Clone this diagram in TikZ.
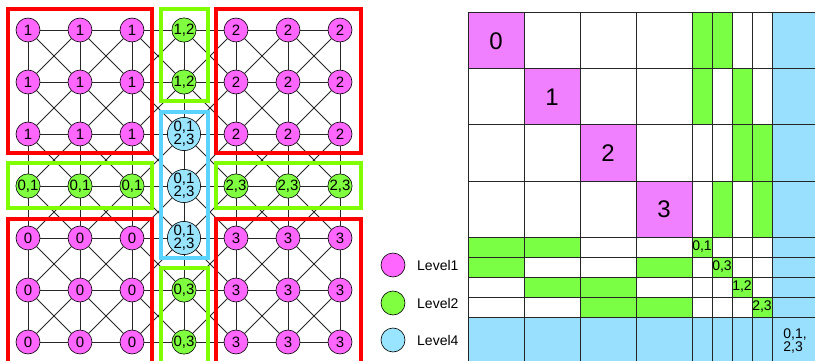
\documentclass[tikz,border=0pt]{standalone}
\usepackage{fontspec}
\setmainfont{Liberation Sans}
\definecolor{pkc}{RGB}{255,102,255}
\definecolor{pkm}{RGB}{240,128,255}
\definecolor{grc}{RGB}{128,255,64}
\definecolor{grm}{RGB}{122,255,69}
\definecolor{cyc}{RGB}{153,228,255}
\definecolor{cym}{RGB}{153,224,255}
\definecolor{boxred}{RGB}{255,0,0}
\definecolor{boxgreen}{RGB}{128,255,0}
\definecolor{boxcyan}{RGB}{90,212,255}
\tikzset{
  gnode/.style={circle, draw=black, line width=0.6pt, minimum size=24pt, inner sep=0pt, font=\fontsize{15}{15}\selectfont},
  pk/.style={gnode, fill=pkc},
  gr/.style={gnode, fill=grc},
  cy/.style={gnode, fill=cyc, align=center, font=\fontsize{15}{12}\selectfont},
  edge/.style={draw=black!85, line width=0.75pt},
  grp/.style={line width=3.5pt},
  mline/.style={draw=black!85, line width=1pt},
  bigl/.style={font=\fontsize{24}{24}\selectfont, inner sep=0pt},
  smalll/.style={font=\fontsize{14}{14}\selectfont, inner sep=0pt},
  legtext/.style={font=\fontsize{14}{14}\selectfont, anchor=west, inner sep=0pt},
}
\newcommand\gn[4]{\node[#3] (n#1-#2) at ({28+52*#1},{30+52*#2}) {#4};}
\begin{document}
\begin{tikzpicture}[x=1pt,y=-1pt]
\useasboundingbox (0,0) rectangle (815,361);
\clip (0,0) rectangle (815,361);
% ---------- left graph: nodes ----------
\gn00{pk}{1}\gn10{pk}{1}\gn20{pk}{1}\gn30{gr}{1,2}\gn40{pk}{2}\gn50{pk}{2}\gn60{pk}{2}
\gn01{pk}{1}\gn11{pk}{1}\gn21{pk}{1}\gn31{gr}{1,2}\gn41{pk}{2}\gn51{pk}{2}\gn61{pk}{2}
\gn02{pk}{1}\gn12{pk}{1}\gn22{pk}{1}\gn32{cy}{0,1\\2,3}\gn42{pk}{2}\gn52{pk}{2}\gn62{pk}{2}
\gn03{gr}{0,1}\gn13{gr}{0,1}\gn23{gr}{0,1}\gn33{cy}{0,1\\2,3}\gn43{gr}{2,3}\gn53{gr}{2,3}\gn63{gr}{2,3}
\gn04{pk}{0}\gn14{pk}{0}\gn24{pk}{0}\gn34{cy}{0,1\\2,3}\gn44{pk}{3}\gn54{pk}{3}\gn64{pk}{3}
\gn05{pk}{0}\gn15{pk}{0}\gn25{pk}{0}\gn35{gr}{0,3}\gn45{pk}{3}\gn55{pk}{3}\gn65{pk}{3}
\gn06{pk}{0}\gn16{pk}{0}\gn26{pk}{0}\gn36{gr}{0,3}\gn46{pk}{3}\gn56{pk}{3}\gn66{pk}{3}
% ---------- edges ----------
\foreach \i in {0,...,6} {
  \foreach \j in {0,...,5} {
    \pgfmathtruncatemacro\k{\j+1}
    \draw[edge] (n\i-\j) -- (n\i-\k);
    \draw[edge] (n\j-\i) -- (n\k-\i);
  }
}
\foreach \i in {0,...,5} {
  \foreach \j in {0,...,5} {
    \pgfmathtruncatemacro\ii{\i+1}
    \pgfmathtruncatemacro\jj{\j+1}
    \draw[edge] (n\i-\j) -- (n\ii-\jj);
    \draw[edge] (n\ii-\j) -- (n\i-\jj);
  }
}
% ---------- group boxes ----------
\draw[grp, boxred] (8,9) rectangle (152,153);
\draw[grp, boxred] (216,9) rectangle (361,153);
\draw[grp, boxred] (8,219) rectangle (152,380);
\draw[grp, boxred] (216,219) rectangle (361,380);
\draw[grp, boxgreen] (161,9) rectangle (208,101);
\draw[grp, boxgreen] (8,163) rectangle (152,208);
\draw[grp, boxgreen] (216,163) rectangle (361,208);
\draw[grp, boxgreen] (161,268) rectangle (208,380);
\draw[grp, boxcyan] (161,112) rectangle (208,258);
% ---------- legend ----------
\node[pk, minimum size=24pt] (l1) at (393,265) {};
\node[gr, minimum size=24pt] (l2) at (393,303) {};
\node[cy, minimum size=24pt] (l4) at (393,340) {};
\node[legtext] (t1) at (417,265) {Level1};
\node[legtext] (t2) at (417,303) {Level2};
\node[legtext] (t4) at (417,340) {Level4};
% ---------- matrix ----------
% magenta diagonal
\fill[pkm] (468,13) rectangle (524,69);
\fill[pkm] (524,69) rectangle (580,125);
\fill[pkm] (580,125) rectangle (636,181);
\fill[pkm] (636,181) rectangle (692,237);
% green columns
\fill[grm] (692,13) rectangle (732,69);
\fill[grm] (692,69) rectangle (712,125);
\fill[grm] (732,69) rectangle (752,125);
\fill[grm] (732,125) rectangle (772,181);
\fill[grm] (712,181) rectangle (732,237);
\fill[grm] (752,181) rectangle (772,237);
% green rows
\fill[grm] (468,237) rectangle (580,257);
\fill[grm] (692,237) rectangle (712,257);
\fill[grm] (468,257) rectangle (524,277);
\fill[grm] (636,257) rectangle (692,277);
\fill[grm] (712,257) rectangle (732,277);
\fill[grm] (524,277) rectangle (636,297);
\fill[grm] (732,277) rectangle (752,297);
\fill[grm] (580,297) rectangle (692,317);
\fill[grm] (752,297) rectangle (772,317);
% cyan
\fill[cym] (772,13) rectangle (830,380);
\fill[cym] (468,317) rectangle (830,380);
% grid lines
\foreach \x in {468,524,580,636,692,712,732,752,772}
  \draw[mline] (\x,13) -- (\x,380);
\foreach \y in {13,69,125,181,237,257,277,297,317}
  \draw[mline] (468,\y) -- (830,\y);
% labels
\node[bigl] (m0) at (496,41) {0};
\node[bigl] (m1) at (552,97) {1};
\node[bigl] (m2) at (608,153) {2};
\node[bigl] (m3) at (664,209) {3};
\node[smalll] (s01) at (702,247) {0,1};
\node[smalll] (s03) at (722,267) {0,3};
\node[smalll] (s12) at (742,287) {1,2};
\node[smalll] (s23) at (762,307) {2,3};
\node[smalll, align=left, font=\fontsize{14}{13}\selectfont] (s4) at (795,341) {0,1,\\2,3};
\end{tikzpicture}
\end{document}
